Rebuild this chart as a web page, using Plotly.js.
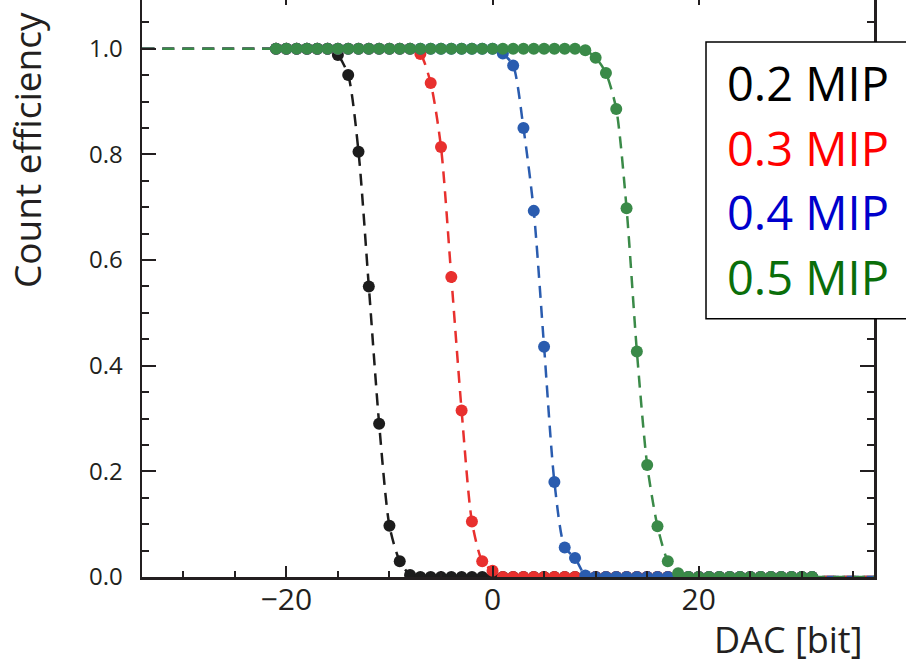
<!DOCTYPE html>
<html>
<head>
<meta charset="utf-8">
<script src="https://cdn.plot.ly/plotly-3.0.1.min.js"></script>
<style>
html,body{margin:0;padding:0;background:#fff;overflow:hidden;}
#chart{position:absolute;left:0;top:-6px;width:906px;height:672px;}
</style>
</head>
<body>
<div id="chart"></div>
<script>
// DAC threshold settings (bit)
const dacBits = [-21,-20,-19,-18,-17,-16,-15,-14,-13,-12,-11,-10,-9,-8,-7,-6,-5,-4,-3,-2,-1,0,1,2,3,4,5,6,7,8,9,10,11,12,13,14,15,16,17,18,19,20,21,22,23,24,25,26,27,28,29,30,31];

// Count efficiency for each charge threshold
const eff02 = [1,1,1,1,1,1,0.988,0.95,0.805,0.55,0.29,0.097,0.03,0.004,0,0,0,0,0,0,0,0,0,0,0,0,0,0,0,0,0,0,0,0,0,0,0,0,0,0,0,0,0,0,0,0,0,0,0,0,0,0,0];
const eff03 = [1,1,1,1,1,1,1,1,1,1,1,1,1,1,0.99,0.935,0.814,0.568,0.315,0.105,0.03,0.012,0,0,0,0,0,0,0,0,0,0,0,0,0,0,0,0,0,0,0,0,0,0,0,0,0,0,0,0,0,0,0];
const eff04 = [1,1,1,1,1,1,1,1,1,1,1,1,1,1,1,1,1,1,1,1,1,1,0.991,0.968,0.85,0.693,0.436,0.18,0.056,0.036,0.003,0,0,0,0,0,0,0,0,0,0,0,0,0,0,0,0,0,0,0,0,0,0];
const eff05 = [1,1,1,1,1,1,1,1,1,1,1,1,1,1,1,1,1,1,1,1,1,1,1,1,1,1,1,1,1,1,0.997,0.983,0.954,0.886,0.698,0.427,0.212,0.096,0.03,0.007,0,0,0,0,0,0,0,0,0,0,0,0,0];

// Fit curves extend across the whole axis: plateau value at the left end, zero at the right end
const fitStartX = -34, fitStartY = 1;
const fitEndX = 37, fitEndY = 0;

const seriesNames = ["0.2 MIP","0.3 MIP","0.4 MIP","0.5 MIP"];
const seriesData = [eff02, eff03, eff04, eff05];
const markColors = ["#1c1c1c","#e8302e","#2a5caf","#3a8a48"];
const labelColors = ["#000000","#ff0000","#0000cc","#0a6e0a"];

const axisColor = "#231f20";
const traces = [];
seriesData.forEach((vals, i) => {
  traces.push({
    x: [fitStartX].concat(dacBits, [fitEndX]),
    y: [fitStartY].concat(vals, [fitEndY]),
    mode: "lines",
    line: {color: markColors[i], width: 2.5, dash: "12px,8px", shape: "spline", smoothing: 0.7},
    hoverinfo: "skip",
    showlegend: false
  });
  traces.push({
    x: dacBits,
    y: vals,
    name: seriesNames[i],
    mode: "markers",
    marker: {color: markColors[i], size: 12},
    showlegend: false
  });
});

const annotations = [
  {text: "Count efficiency", xref: "paper", yref: "paper", x: -0.157, y: 0.7326,
   xanchor: "center", yanchor: "middle", textangle: -90, showarrow: false,
   font: {family: "Open Sans", size: 37, color: axisColor}},
  {text: "DAC [bit]", xref: "paper", yref: "paper", x: 0.987, y: -0.108,
   xanchor: "right", yanchor: "middle", showarrow: false,
   font: {family: "Open Sans", size: 36, color: axisColor}}
];
const legendY = [0.8474, 0.736, 0.6264, 0.5148];
seriesNames.forEach((n, i) => {
  annotations.push({text: n, xref: "paper", yref: "paper", x: 0.797, y: legendY[i],
    xanchor: "left", yanchor: "middle", showarrow: false,
    font: {family: "Open Sans", size: 47, color: labelColors[i]}});
});

const layout = {
  width: 906, height: 672,
  margin: {l: 142, r: 32, t: 0, b: 89},
  paper_bgcolor: "#fff", plot_bgcolor: "#fff",
  font: {family: "Open Sans", color: axisColor},
  hovermode: false,
  xaxis: {
    range: [-34, 37], tickmode: "linear", tick0: 0, dtick: 20,
    ticks: "inside", ticklen: 11, tickwidth: 2, tickcolor: axisColor,
    minor: {dtick: 5, tick0: 0, ticks: "inside", ticklen: 6, tickwidth: 2, tickcolor: axisColor},
    showline: true, linewidth: 2.5, linecolor: axisColor, mirror: "ticks",
    showgrid: false, zeroline: false,
    tickfont: {family: "Open Sans", size: 30, color: axisColor},
    ticklabelstandoff: -6
  },
  yaxis: {
    range: [0, 1.1035], tickmode: "linear", tick0: 0, dtick: 0.2, tickformat: ".1f",
    ticks: "inside", ticklen: 14, tickwidth: 2, tickcolor: axisColor,
    minor: {dtick: 0.05, tick0: 0, ticks: "inside", ticklen: 7, tickwidth: 2, tickcolor: axisColor},
    showline: true, linewidth: 2.5, linecolor: axisColor, mirror: "ticks",
    showgrid: false, zeroline: false,
    tickfont: {family: "Open Sans", size: 24, color: axisColor},
    ticklabelstandoff: 12
  },
  shapes: [
    {type: "rect", xref: "paper", yref: "paper", x0: 0.7705, x1: 1.07, y0: 0.4428, y1: 0.9177,
     line: {color: "#000", width: 1.5}, fillcolor: "#fff", layer: "above"}
  ],
  annotations: annotations
};

Plotly.newPlot("chart", traces, layout, {displayModeBar: false, staticPlot: true});
</script>
</body>
</html>
